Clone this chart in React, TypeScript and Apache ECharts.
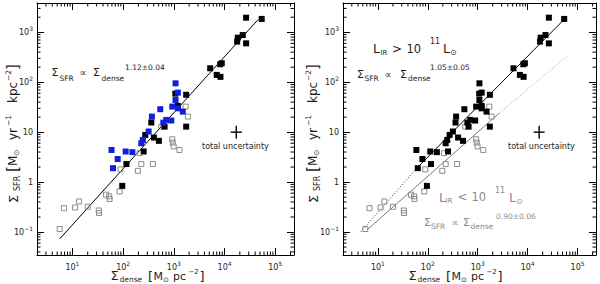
import React, { useEffect, useRef } from "react";
import * as echarts from "echarts";

// ---- data (Σ_dense in M⊙ pc^-2, Σ_SFR in M⊙ yr^-1 kpc^-2) ----
const BLACK_X = [26600, 54000, 22800, 18200, 17700, 26600, 5200, 8800, 8200, 7000, 8300, 1750, 1070, 1200, 359, 656, 1750, 273, 404, 507, 254, 116, 96];
const BLACK_Y = [1960, 1850, 880, 780, 650, 600, 190, 240, 229, 140, 128, 56, 59, 33.6, 15.6, 12.9, 12.9, 8.8, 7.8, 6.7, 4.1, 2.3, 0.84];

const BLUE_X = [1080, 1200, 1080, 930, 1200, 1500, 540, 369, 708, 889, 620, 318, 245, 228, 59, 112, 152, 78, 63];
const BLUE_Y = [95, 62, 44, 32.5, 30, 25.8, 28.8, 20.5, 17.6, 17.1, 15.5, 10.3, 7.0, 6.0, 4.4, 4.1, 3.98, 2.9, 1.9];

const OPEN_X = [1700, 1890, 565, 930, 950, 990, 1290, 211, 228, 195, 386, 89, 85, 46, 53, 54, 13.5, 11.3, 6.8, 20, 33, 33.4, 5.6];
const OPEN_Y = [32.5, 20.5, 12.9, 7.2, 6.2, 5.2, 4.4, 3.8, 2.3, 1.68, 2.3, 1.8, 0.65, 0.56, 0.52, 0.46, 0.41, 0.31, 0.30, 0.32, 0.27, 0.24, 0.115];

// fit lines (end points)
const FIT_ALL_X = [5.6, 46000];
const FIT_ALL_Y = [0.073, 1800];
const FIT_HI_SOLID_X = [60, 55000];
const FIT_HI_SOLID_Y = [1.9, 1850];
const FIT_HI_DOT_X = [4.5, 60];
const FIT_HI_DOT_Y = [0.1, 1.9];
const FIT_LO_SOLID_X = [6.1, 2700];
const FIT_LO_SOLID_Y = [0.111, 24];
const FIT_LO_DOT_X = [2700, 60000];
const FIT_LO_DOT_Y = [24, 325];

// total-uncertainty cross
const UNC_POINT = [17000, 10];
const UNC_DEX = [0.11, 0.13];

// axes
const X_RANGE = [2, 234000];
const Y_RANGE = [0.0347, 3855];
const MINOR_STEPS = [2, 3, 4, 5, 6, 7, 8, 9];
const X_DECADES = [0, 1, 2, 3, 4, 5];
const Y_DECADES = [-2, -1, 0, 1, 2, 3];

const FONT = "DejaVu Sans";
const INK = "#1e1e1e";
const GRAY = "#8c8c8c";
const BLUE = "#1020d8";

const pairs = (xs: number[], ys: number[]) => xs.map((x, i) => [x, ys[i]]);

function expOf(v: number): number | null {
  const l = Math.log10(v);
  const e = Math.round(l);
  return Math.abs(l - e) < 1e-4 ? e : null;
}
const sup = (e: number) => (e < 0 ? "−" + -e : String(e));

const richLabel = {
  b: { fontSize: 8, fontFamily: FONT, color: INK, lineHeight: 14 },
  s: { fontSize: 6, fontFamily: FONT, color: INK, lineHeight: 8, verticalAlign: "top" },
};

function xAxisCfg(gridIndex: number, position: string, labels: boolean) {
  return {
    type: "log",
    logBase: 10,
    gridIndex,
    position,
    min: X_RANGE[0],
    max: X_RANGE[1],
    axisLine: { show: true, onZero: false, lineStyle: { color: "#000", width: 1 } },
    axisTick: { show: true, inside: true, length: 7, lineStyle: { color: "#000", width: 1 } },
    minorTick: { show: false },
    splitLine: { show: false },
    axisLabel: labels
      ? {
          show: true,
          margin: 5,
          showMinLabel: false,
          showMaxLabel: false,
          formatter: (v: number) => {
            const e = expOf(v);
            return e === null ? "" : `{b|10}{s|${sup(e)}}`;
          },
          rich: richLabel,
        }
      : { show: false },
  };
}

function yAxisCfg(gridIndex: number, position: string, labels: boolean) {
  return {
    type: "log",
    logBase: 10,
    gridIndex,
    position,
    min: Y_RANGE[0],
    max: Y_RANGE[1],
    axisLine: { show: true, onZero: false, lineStyle: { color: "#000", width: 1 } },
    axisTick: { show: true, inside: true, length: 7, lineStyle: { color: "#000", width: 1 } },
    minorTick: { show: false },
    splitLine: { show: false },
    axisLabel: labels
      ? {
          show: true,
          margin: 4,
          showMinLabel: false,
          showMaxLabel: false,
          formatter: (v: number) => {
            const e = expOf(v);
            if (e === null) return "";
            if (e === 0) return "{b|1}";
            if (e === 1) return "{b|10}";
            return `{b|10}{s|${sup(e)}}`;
          },
          rich: richLabel,
        }
      : { show: false },
  };
}

function minorTickData() {
  const d: number[][] = [];
  X_DECADES.forEach((k) =>
    MINOR_STEPS.forEach((m) => {
      const v = m * Math.pow(10, k);
      if (v > X_RANGE[0] && v < X_RANGE[1]) d.push([v, 1, 0]);
    })
  );
  Y_DECADES.forEach((k) =>
    MINOR_STEPS.forEach((m) => {
      const v = m * Math.pow(10, k);
      if (v > Y_RANGE[0] && v < Y_RANGE[1]) d.push([10, v, 1]);
    })
  );
  return d;
}

function minorTickSeries(axisIndex: number) {
  return {
    type: "custom",
    xAxisIndex: axisIndex,
    yAxisIndex: axisIndex,
    silent: true,
    clip: false,
    z: 1,
    encode: { x: 0, y: 1 },
    data: minorTickData(),
    renderItem: (params: any, api: any) => {
      const cs = params.coordSys;
      const p = api.coord([api.value(0), api.value(1)]);
      const L = 3.5;
      const style = { stroke: "#000", lineWidth: 1 };
      if (api.value(2) === 0) {
        return {
          type: "group",
          children: [
            { type: "line", shape: { x1: p[0], y1: cs.y + cs.height, x2: p[0], y2: cs.y + cs.height - L }, style },
            { type: "line", shape: { x1: p[0], y1: cs.y, x2: p[0], y2: cs.y + L }, style },
          ],
        };
      }
      return {
        type: "group",
        children: [
          { type: "line", shape: { x1: cs.x, y1: p[1], x2: cs.x + L, y2: p[1] }, style },
          { type: "line", shape: { x1: cs.x + cs.width, y1: p[1], x2: cs.x + cs.width - L, y2: p[1] }, style },
        ],
      };
    },
  };
}

function crossSeries(axisIndex: number) {
  return {
    type: "custom",
    xAxisIndex: axisIndex,
    yAxisIndex: axisIndex,
    silent: true,
    encode: { x: 0, y: 1 },
    data: [UNC_POINT],
    renderItem: (_p: any, api: any) => {
      const x = api.value(0);
      const y = api.value(1);
      const fx = Math.pow(10, UNC_DEX[0]);
      const fy = Math.pow(10, UNC_DEX[1]);
      const l = api.coord([x / fx, y]);
      const r = api.coord([x * fx, y]);
      const b = api.coord([x, y / fy]);
      const t = api.coord([x, y * fy]);
      const style = { stroke: "#000", lineWidth: 1.4 };
      return {
        type: "group",
        children: [
          { type: "line", shape: { x1: l[0], y1: l[1], x2: r[0], y2: r[1] }, style },
          { type: "line", shape: { x1: b[0], y1: b[1], x2: t[0], y2: t[1] }, style },
        ],
      };
    },
  };
}

function lineSeries(axisIndex: number, xs: number[], ys: number[], color: string, type: any) {
  return {
    type: "line",
    xAxisIndex: axisIndex,
    yAxisIndex: axisIndex,
    data: pairs(xs, ys),
    symbol: "none",
    silent: true,
    z: 2,
    lineStyle: { color, width: 1, type },
  };
}

function filledSeries(axisIndex: number, xs: number[], ys: number[], color: string, z: number) {
  return {
    type: "scatter",
    xAxisIndex: axisIndex,
    yAxisIndex: axisIndex,
    data: pairs(xs, ys),
    symbol: "rect",
    symbolSize: 6,
    silent: true,
    z,
    itemStyle: { color, opacity: 1 },
  };
}

function openSeries(axisIndex: number) {
  return {
    type: "scatter",
    xAxisIndex: axisIndex,
    yAxisIndex: axisIndex,
    data: pairs(OPEN_X, OPEN_Y),
    symbol: "rect",
    symbolSize: 5,
    silent: true,
    z: 3,
    itemStyle: { color: "rgba(255,255,255,0)", borderColor: GRAY, borderWidth: 1, opacity: 1 },
  };
}

// ---- text pieces: [x, centreY, text, fontSize] ----
type Piece = [number, number, string, number];

function txt(p: Piece, fill: string) {
  return {
    type: "text",
    x: p[0],
    y: p[1],
    silent: true,
    style: { text: p[2], fontSize: p[3], fontFamily: FONT, fill, align: "left", verticalAlign: "middle" },
  };
}

const NOTE_LEFT: Piece[] = [
  [51.5, 72.5, "Σ", 11],
  [59.5, 78, "SFR", 7.5],
  [79.5, 72.5, "∝", 10],
  [93, 72.5, "Σ", 11],
  [101.5, 78, "dense", 7.5],
  [125, 67, "1.12±0.04", 7.5],
];
const NOTE_HI: Piece[] = [
  [373, 48.5, "L", 12.5],
  [380.5, 52.5, "IR", 7],
  [392, 48.5, ">", 12],
  [406.5, 48.5, "10", 11.5],
  [430, 41.5, "11", 8],
  [443, 48.5, "L", 12.5],
  [450, 52.5, "⊙", 8],
  [357, 74, "Σ", 11],
  [364.5, 78.5, "SFR", 7.5],
  [384.5, 74, "∝", 10],
  [400, 74, "Σ", 11],
  [408, 78.5, "dense", 7.5],
  [430, 67.5, "1.05±0.05", 7.5],
];
const NOTE_LO: Piece[] = [
  [439, 197, "L", 12.5],
  [445.5, 201, "IR", 7],
  [457.5, 197, "<", 12],
  [471.5, 197, "10", 11.5],
  [495, 190.5, "11", 8],
  [509, 197, "L", 12.5],
  [516, 201, "⊙", 8],
  [424, 222, "Σ", 11],
  [431, 226.5, "SFR", 7.5],
  [451.5, 222, "∝", 10],
  [463, 222, "Σ", 11],
  [470.5, 226.5, "dense", 7.5],
  [496, 216.5, "0.90±0.06", 7.5],
];
const X_TITLE: Piece[] = [
  [110.5, 275.5, "Σ", 13],
  [119.5, 279.5, "dense", 7.5],
  [148, 276, "[", 13],
  [153.5, 276.5, "M", 11],
  [163, 280, "⊙", 7],
  [173, 276.5, "pc", 11],
  [188.5, 271.5, "−2", 7],
  [199.5, 276, "]", 13],
];
// y title, rotated: [start (screen y, bottom), x centre, text, size]
const Y_TITLE: Piece[] = [
  [203, 13, "Σ", 13],
  [191, 17, "SFR", 8],
  [172, 12.5, "[", 15],
  [166, 13, "M", 12],
  [156, 16.5, "⊙", 7.5],
  [140, 13, "yr", 12],
  [126, 8, "−1", 7.5],
  [103, 13, "kpc", 12],
  [81, 8, "−2", 7.5],
  [70, 12.5, "]", 15],
];

function xTitle(dx: number) {
  return X_TITLE.map((p) => txt([p[0] + dx, p[1], p[2], p[3]], INK));
}
function yTitle(dx: number) {
  return {
    type: "group",
    x: 0,
    y: 0,
    rotation: Math.PI / 2,
    silent: true,
    children: Y_TITLE.map((p) => txt([-p[0], p[1] + dx, p[2], p[3]], INK)),
  };
}

function buildOption() {
  return {
    animation: false,
    backgroundColor: "#fff",
    grid: [
      { left: 37, top: 3, width: 257, height: 252 },
      { left: 343, top: 3, width: 253, height: 252 },
    ],
    xAxis: [xAxisCfg(0, "bottom", true), xAxisCfg(0, "top", false), xAxisCfg(1, "bottom", true), xAxisCfg(1, "top", false)],
    yAxis: [yAxisCfg(0, "left", true), yAxisCfg(0, "right", false), yAxisCfg(1, "left", true), yAxisCfg(1, "right", false)],
    series: [
      minorTickSeries(0),
      minorTickSeries(2),
      lineSeries(0, FIT_ALL_X, FIT_ALL_Y, "#000", "solid"),
      openSeries(0),
      filledSeries(0, BLACK_X, BLACK_Y, "#000", 4),
      filledSeries(0, BLUE_X, BLUE_Y, BLUE, 5),
      crossSeries(0),
      lineSeries(2, FIT_HI_DOT_X, FIT_HI_DOT_Y, "#333", [1, 2]),
      lineSeries(2, FIT_HI_SOLID_X, FIT_HI_SOLID_Y, "#000", "solid"),
      lineSeries(2, FIT_LO_SOLID_X, FIT_LO_SOLID_Y, "#7a7a7a", "solid"),
      lineSeries(2, FIT_LO_DOT_X, FIT_LO_DOT_Y, "#9a9a9a", [1, 2]),
      openSeries(2),
      filledSeries(2, BLACK_X, BLACK_Y, "#000", 4),
      filledSeries(2, BLUE_X, BLUE_Y, "#000", 4),
      crossSeries(2),
    ],
    graphic: [
      ...NOTE_LEFT.map((p) => txt(p, INK)),
      ...NOTE_HI.map((p) => txt(p, INK)),
      ...NOTE_LO.map((p) => txt(p, GRAY)),
      txt([202, 146.5, "total uncertainty", 8], INK),
      txt([508, 146.5, "total uncertainty", 8], INK),
      ...xTitle(0),
      ...xTitle(298),
      yTitle(0),
      yTitle(300),
    ],
  };
}

export default function App() {
  const ref = useRef<HTMLDivElement>(null);
  useEffect(() => {
    const chart = echarts.init(ref.current!, undefined, { renderer: "svg" });
    chart.setOption(buildOption() as any);
    return () => chart.dispose();
  }, []);
  return (
    <div
      ref={ref}
      style={{ position: "fixed", left: 0, top: 0, width: 600, height: 284, background: "#fff" }}
    />
  );
}
